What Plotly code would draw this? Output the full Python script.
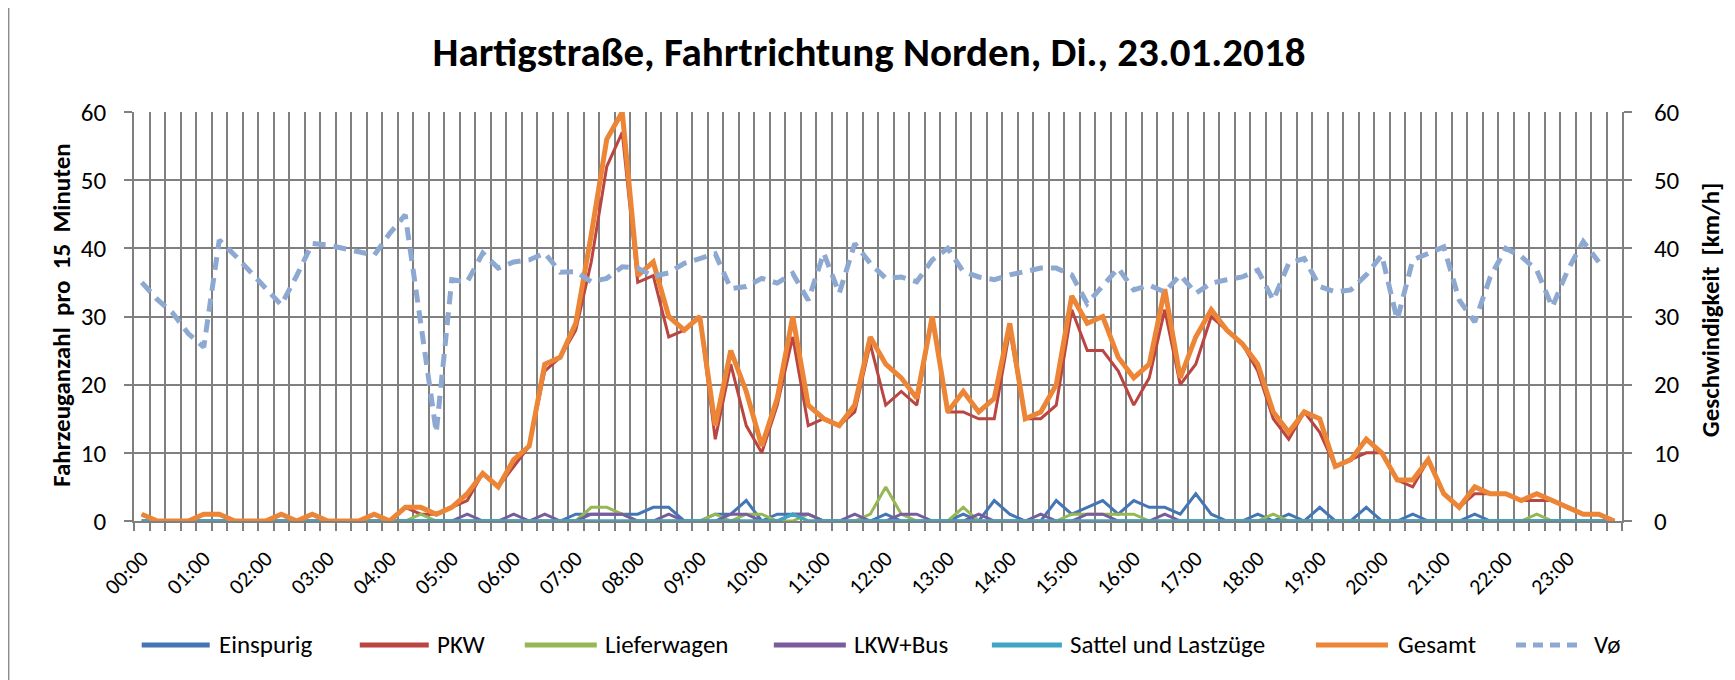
import plotly.graph_objects as go

# ---------------- data (15-minute intervals, 00:00 .. 23:45) ----------------
times = [f"{h:02d}:{m:02d}" for h in range(24) for m in (0, 15, 30, 45)]
hour_labels = [f"{h:02d}:00" for h in range(24)]

einspurig = [0]*28 + [
    1, 1, 1, 1, 1, 2, 2, 0,
    0, 1, 1, 3, 0, 1, 1, 1, 0, 0, 0, 0,
    1, 0, 0, 0, 0, 1, 0, 3, 1, 0, 0, 3,
    1, 2, 3, 1, 3, 2, 2, 1, 4, 1, 0, 0,
    1, 0, 1, 0, 2, 0, 0, 2, 0, 0, 1, 0,
    0, 0, 1, 0, 0, 0, 0, 0, 0, 0, 0, 0]

pkw = [1, 0, 0, 0, 1, 1, 0, 0, 0, 1, 0, 1, 0, 0, 0, 1, 0,
       2, 1, 1, 2, 3, 7, 5, 8, 11, 22, 24, 28, 38, 52, 57, 35, 36, 27, 28, 30,
       12, 23, 14, 10, 17, 27, 14, 15, 14, 16, 26, 17, 19, 17, 30, 16, 16, 15,
       15, 28, 15, 15, 17, 31, 25, 25, 22, 17, 21, 31, 20, 23, 30, 28, 26, 22, 15,
       12, 16, 13, 8, 9, 10, 10, 6, 5, 9, 4, 2, 4, 4, 4, 3, 3, 3, 2, 1, 1, 0]

lieferwagen = [
    0, 0, 0, 0, 0, 0, 0, 0, 0, 0, 0, 0,
    0, 0, 0, 0, 0, 0, 1, 0, 0, 0, 0, 0,
    0, 0, 0, 0, 0, 2, 2, 1, 0, 0, 0, 0,
    0, 1, 0, 1, 1, 0, 0, 1, 0, 0, 0, 1,
    5, 1, 0, 0, 0, 2, 0, 0, 0, 0, 0, 0,
    1, 1, 1, 1, 1, 0, 0, 0, 0, 0, 0, 0,
    0, 1, 0, 0, 0, 0, 0, 0, 0, 0, 0, 0,
    0, 0, 0, 0, 0, 0, 1, 0, 0, 0, 0, 0]

lkw_bus = [
    0, 0, 0, 0, 0, 0, 0, 0, 0, 0, 0, 0,
    0, 0, 0, 0, 0, 0, 0, 0, 0, 1, 0, 0,
    1, 0, 1, 0, 0, 1, 1, 1, 0, 0, 1, 0,
    0, 0, 1, 1, 0, 0, 1, 1, 0, 0, 1, 0,
    0, 1, 1, 0, 0, 0, 1, 0, 0, 0, 1, 0,
    0, 1, 1, 0, 0, 0, 1, 0, 0, 0, 0, 0,
    0, 0, 0, 0, 0, 0, 0, 0, 0, 0, 0, 0,
    0, 0, 0, 0, 0, 0, 0, 0, 0, 0, 0, 0]

sattel = [
    0, 0, 0, 0, 0, 0, 0, 0, 0, 0, 0, 0,
    0, 0, 0, 0, 0, 0, 0, 0, 0, 0, 0, 0,
    0, 0, 0, 0, 0, 0, 0, 0, 0, 0, 0, 0,
    0, 0, 0, 0, 0, 0, 1, 0, 0, 0, 0, 0,
    0, 0, 0, 0, 0, 0, 0, 0, 0, 0, 0, 0,
    0, 0, 0, 0, 0, 0, 0, 0, 0, 0, 0, 0,
    0, 0, 0, 0, 0, 0, 0, 0, 0, 0, 0, 0,
    0, 0, 0, 0, 0, 0, 0, 0, 0, 0, 0, 0]

gesamt = [1, 0, 0, 0, 1, 1, 0, 0, 0, 1, 0, 1, 0, 0, 0, 1, 0,
          2, 2, 1, 2, 4, 7, 5, 9, 11, 23, 24, 29, 42, 56, 60, 36, 38, 30, 28, 30,
          14, 25, 19, 11, 18, 30, 17, 15, 14, 17, 27, 23, 21, 18, 30, 16, 19, 16,
          18, 29, 15, 16, 20, 33, 29, 30, 24, 21, 23, 34, 21, 27, 31, 28, 26, 23, 16,
          13, 16, 15, 8, 9, 12, 10, 6, 6, 9, 4, 2, 5, 4, 4, 3, 4, 3, 2, 1, 1, 0]

v_mittel = [
    35, 32.5, 30.5, 27.5, 25.5, 41.2, 39, 36.5, 34, 31.7, 36, 40.7,
    40.5, 40, 39.5, 39, 42.2, 44.9, 29, 13, 35.4, 35.1, 39.3, 37.1,
    38, 38.3, 39.3, 36.5, 36.6, 35.1, 35.6, 37.3, 37.1, 35.9, 36.4, 37.8,
    38.5, 39.2, 34.1, 34.4, 35.6, 34.9, 36.3, 32.4, 39.3, 33.4, 40.7, 37.8,
    35.6, 35.8, 35.1, 38.3, 40, 36.6, 35.8, 35.4, 36.1, 36.6, 37.1, 37.1,
    36.1, 31.9, 34.6, 37.1, 33.9, 34.6, 33.6, 36.1, 33.4, 34.9, 35.4, 35.8,
    36.8, 32.4, 37.8, 38.5, 34.4, 33.6, 33.9, 36.1, 39, 29.5, 38.3, 39.3,
    40.2, 32.4, 29.2, 35.8, 40, 38.8, 36.8, 31.4, 36.8, 41, 38, None]

series_names = ["Einspurig", "PKW", "Lieferwagen", "LKW+Bus", "Sattel und Lastzüge", "Gesamt", "Vø"]

# ---------------- styling ----------------
FONT = "Calibri, Carlito, Lato, sans-serif"
GRID = "#808080"
colors = {
    "Einspurig": "#4476B5",
    "PKW": "#BA4541",
    "Lieferwagen": "#96B853",
    "LKW+Bus": "#7A5C9E",
    "Sattel und Lastzüge": "#40A5C2",
    "Gesamt": "#EC8536",
    "Vø": "#8EA9D1",
}
widths = {"Einspurig": 3, "PKW": 3, "Lieferwagen": 3, "LKW+Bus": 3,
          "Sattel und Lastzüge": 3.4, "Gesamt": 5, "Vø": 5}
VDASH = "13px,8px"

x = list(range(len(times)))
values = {"Einspurig": einspurig, "PKW": pkw, "Lieferwagen": lieferwagen,
          "LKW+Bus": lkw_bus, "Sattel und Lastzüge": sattel, "Gesamt": gesamt}

fig = go.Figure()
for name in series_names[:-1]:
    fig.add_trace(go.Scatter(
        x=x, y=values[name], name=name, mode="lines", customdata=times,
        line=dict(color=colors[name], width=widths[name]),
        hovertemplate="%{customdata}: %{y}<extra>" + name + "</extra>",
        showlegend=False))
fig.add_trace(go.Scatter(
    x=x, y=v_mittel, name="Vø", mode="lines", yaxis="y2", customdata=times,
    line=dict(color=colors["Vø"], width=widths["Vø"], dash=VDASH),
    hovertemplate="%{customdata}: %{y} km/h<extra>Vø</extra>",
    showlegend=False))

# The page body has an 8px margin: work in screen pixels and shift by OFF.
OFF = 8
W, H = 1735 - OFF, 680 - OFF
PLOT_L, PLOT_R, PLOT_T, PLOT_B = 134.3, 1622, 111.7, 521   # screen px
L = PLOT_L - OFF
R = W - (PLOT_R - OFF)
T = PLOT_T - OFF
B = H - (PLOT_B - OFF)
pw, ph = W - L - R, H - T - B


def px(xs):
    return (xs - OFF - L) / pw


def py(ys):
    return (PLOT_B - ys) / ph


n = len(times)
fig.update_layout(
    width=W, height=H,
    margin=dict(l=L, r=R, t=T, b=B, autoexpand=False),
    paper_bgcolor="white", plot_bgcolor="white",
    font=dict(family=FONT, color="black", size=20),
    title=dict(text="Hartigstraße, Fahrtrichtung Norden, Di., 23.01.2018",
               x=(869 - OFF) / W, y=1 - (52 - OFF) / H, xref="container", yref="container",
               xanchor="center", yanchor="middle",
               font=dict(family=FONT, size=41, weight="bold", color="black")),
    xaxis=dict(
        range=[-0.5, n - 0.5], showgrid=False, zeroline=False, automargin=False,
        tickmode="array", tickvals=[4 * h for h in range(24)], ticktext=hour_labels,
        tickangle=-45, ticks="outside", ticklen=8, tickcolor="rgba(0,0,0,0)",
        tickfont=dict(size=22), ticklabelstandoff=6,
        showline=True, linecolor=GRID, linewidth=1.8,
        minor=dict(tickmode="array", tickvals=[k - 0.5 for k in range(n + 1)],
                   showgrid=True, gridcolor=GRID, gridwidth=1.8,
                   ticks="outside", ticklen=8, tickcolor=GRID, tickwidth=1.8),
    ),
    yaxis=dict(
        range=[0, 60], tick0=0, dtick=10, showgrid=True, gridcolor=GRID, gridwidth=1.8,
        zeroline=False, ticks="outside", ticklen=8, tickcolor=GRID, tickwidth=1.8,
        showline=True, linecolor=GRID, linewidth=1.8, tickfont=dict(size=25),
        ticklabelstandoff=13, automargin=False,
    ),
    yaxis2=dict(
        range=[0, 60], tick0=0, dtick=10, overlaying="y", side="right",
        showgrid=False, zeroline=False, ticks="outside", ticklen=8, tickcolor=GRID,
        tickwidth=1.8, showline=True, linecolor=GRID, linewidth=1.8,
        tickfont=dict(size=25), ticklabelstandoff=17, automargin=False,
    ),
    showlegend=False,
)

annotations = [
    dict(text="<b>Fahrzeuganzahl  pro  15  Minuten</b>", textangle=-90,
         x=px(61), y=py(315), xref="paper", yref="paper", showarrow=False,
         xanchor="center", yanchor="middle", font=dict(size=25, family=FONT)),
    dict(text="<b>Geschwindigkeit  [km/h]</b>", textangle=-90,
         x=px(1710), y=py(310), xref="paper", yref="paper", showarrow=False,
         xanchor="center", yanchor="middle", font=dict(size=25, family=FONT)),
]

# custom legend (line sample + label), positions in screen pixels
legend_items = [
    ("Einspurig", 142, 210, 217),
    ("PKW", 360, 429, 435),
    ("Lieferwagen", 525, 597, 603),
    ("LKW+Bus", 774, 846, 852),
    ("Sattel und Lastzüge", 992, 1062, 1068),
    ("Gesamt", 1316, 1388, 1396),
    ("Vø", 1516, 1582, 1592),
]
LEG_Y = 645
shapes = []
for name, x0, x1, xt in legend_items:
    shapes.append(dict(type="line", xref="paper", yref="paper",
                       x0=px(x0), x1=px(x1), y0=py(LEG_Y), y1=py(LEG_Y),
                       line=dict(color=colors[name], width=5,
                                 dash=("10px,7px" if name == "Vø" else "solid"))))
    annotations.append(dict(text=name, x=px(xt), y=py(LEG_Y), xref="paper", yref="paper",
                            showarrow=False, xanchor="left", yanchor="middle",
                            font=dict(size=25, family=FONT)))

# chart-area border (left / right edges)
for xb in (9, 1729):
    shapes.append(dict(type="line", xref="paper", yref="paper",
                       x0=px(xb), x1=px(xb), y0=py(-5), y1=py(690),
                       line=dict(color="#8C8C8C", width=1.5)))

fig.update_layout(annotations=annotations, shapes=shapes)
fig.write_html("out.html")
